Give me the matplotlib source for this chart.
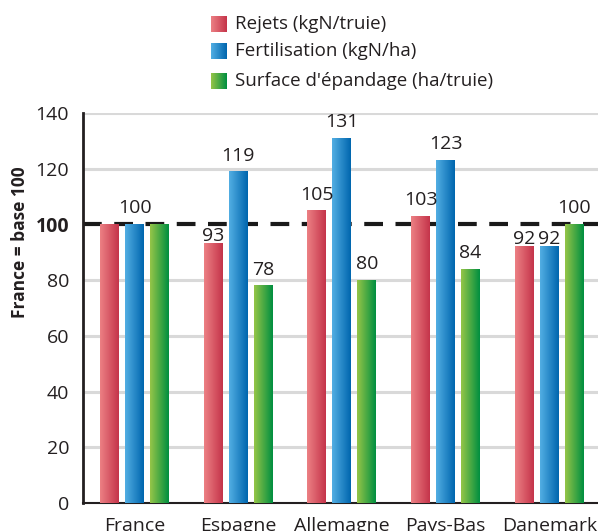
import numpy as np
import matplotlib.pyplot as plt
from matplotlib.colors import LinearSegmentedColormap

plt.rcParams['font.family'] = ['Open Sans', 'DejaVu Sans']

countries = ['France', 'Espagne', 'Allemagne', 'Pays-Bas', 'Danemark']
series = ['Rejets (kgN/truie)', 'Fertilisation (kgN/ha)', "Surface d'épandage (ha/truie)"]
rejets = [100, 93, 105, 103, 92]
fertilisation = [100, 119, 131, 123, 92]
surface = [100, 78, 80, 84, 100]
# France is the reference: only one label shown for it
show_label = [[False, True, True, True, True],
              [True, True, True, True, True],
              [False, True, True, True, True]]

gradients = [('#ec8084', '#c5344a'), ('#52aee3', '#0066ae'), ('#95c548', '#008f40')]
cmaps = [LinearSegmentedColormap.from_list('g%d' % i, c) for i, c in enumerate(gradients)]

fig = plt.figure(figsize=(5.98, 5.31), dpi=100)
ax = fig.add_axes([83 / 598, 28 / 531, 1 - 83 / 598, 390 / 531])

x = np.arange(len(countries))
width = 0.183
step = 0.241
grad = np.linspace(0, 1, 64).reshape(1, -1)

for i, vals in enumerate([rejets, fertilisation, surface]):
    for j, v in enumerate(vals):
        x0 = x[j] + (i - 1) * step - width / 2
        ax.imshow(grad, cmap=cmaps[i], extent=[x0, x0 + width, 0, v],
                  aspect='auto', zorder=3, interpolation='bilinear')
        if show_label[i][j]:
            # labels just under the base-100 line sit tight on the bar
            dy = -1 if 88 <= v < 100 else 5
            ax.annotate(str(v), (x0 + width / 2, v), xytext=(0, dy),
                        textcoords='offset points', ha='center', va='bottom',
                        fontsize=14, color='#231f20', zorder=6)

ax.set_xlim(-0.497, 4.47)
ax.set_ylim(0, 140)
ax.set_yticks(range(0, 141, 20))
ax.set_yticklabels([str(t) for t in range(0, 141, 20)], fontsize=14, color='#231f20')
ax.get_yticklabels()[5].set_fontweight('bold')
ax.set_xticks(x)
ax.set_xticklabels(countries, fontsize=14, color='#231f20')
ax.tick_params(length=0)
ax.tick_params(axis='x', pad=10)
ax.tick_params(axis='y', pad=10)

for t in range(20, 141, 20):
    if t != 100:
        ax.axhline(t, color='#d9d9d9', lw=2.2, zorder=1)
ax.axhline(100, color='#1a1a1a', lw=3, ls=(0, (4.5, 3)), zorder=2)

for s in ['top', 'right']:
    ax.spines[s].set_visible(False)
ax.spines['left'].set_linewidth(2)
ax.spines['left'].set_color('#231f20')
ax.spines['bottom'].set_linewidth(1.5)
ax.spines['bottom'].set_color('#231f20')
ax.spines['left'].set_zorder(4)

fig.text(20 / 598, 1 - 242 / 531, 'France = base 100', rotation=90,
         ha='center', va='center', fontsize=12.5, fontweight='bold', color='#231f20')

# legend with gradient swatches
for i, (name, top) in enumerate(zip(series, [16, 43, 73])):
    sw = fig.add_axes([211 / 598, 1 - (top + 16) / 531, 16 / 598, 16 / 531])
    sw.imshow(grad, cmap=cmaps[i], aspect='auto', interpolation='bilinear')
    sw.axis('off')
    fig.text(235 / 598, 1 - (top + 8) / 531, name, ha='left', va='center',
             fontsize=13.5, color='#231f20')

fig.savefig('out.png', dpi=100)
